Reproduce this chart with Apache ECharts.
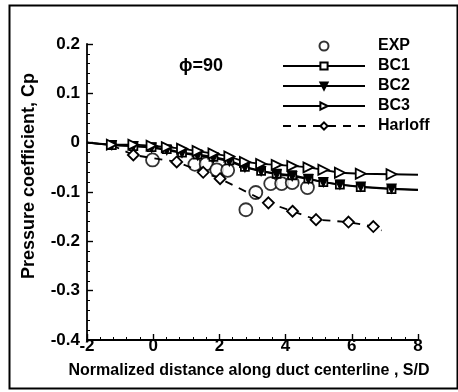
<!DOCTYPE html>
<html>
<head>
<meta charset="utf-8">
<script src="https://cdn.jsdelivr.net/npm/echarts@6/dist/echarts.min.js"></script>
<style>
  html, body { margin: 0; padding: 0; background: #fff; }
  #chart { width: 458px; height: 392px; }
</style>
</head>
<body>
<div id="chart"></div>
<script>
// Pressure coefficient along the duct centerline, phi = 90
const xTicks = [-2, 0, 2, 4, 6, 8];
const yTicks = [-0.4, -0.3, -0.2, -0.1, 0, 0.1, 0.2];

// experiment
const expS  = [-0.02, 1.26, 1.6, 1.92, 2.25, 2.8, 3.1, 3.55, 3.88, 4.2, 4.66];
const expCp = [-0.035, -0.044, -0.043, -0.055, -0.056, -0.136, -0.101, -0.083, -0.083, -0.081, -0.091];

// CFD stations (shared by BC1, BC2, BC3)
const cfdS   = [-2, -1.25, -0.6, -0.05, 0.41, 0.87, 1.34, 1.82, 2.3, 2.77, 3.26, 3.73, 4.2, 4.69, 5.14, 5.64, 6.27, 7.2, 8];
const bc1Cp  = [0, -0.005, -0.007, -0.009, -0.013, -0.02, -0.024, -0.029, -0.036, -0.049, -0.057, -0.063, -0.066, -0.073, -0.08, -0.085, -0.09, -0.094, -0.096];
const bc2Cp  = [0, -0.005, -0.007, -0.01, -0.015, -0.021, -0.026, -0.031, -0.038, -0.05, -0.058, -0.064, -0.068, -0.074, -0.08, -0.085, -0.089, -0.093, -0.095];
const bc3Cp  = [0, -0.004, -0.004, -0.006, -0.009, -0.012, -0.017, -0.022, -0.028, -0.039, -0.043, -0.045, -0.047, -0.05, -0.055, -0.061, -0.063, -0.064, -0.065];

// Harloff correlation
const harS  = [-1.25, -0.6, 0.71, 1.51, 2.02, 3.48, 4.21, 4.92, 5.9, 6.65, 6.9];
const harCp = [-0.005, -0.025, -0.039, -0.06, -0.073, -0.122, -0.139, -0.156, -0.161, -0.17, -0.178];

const FONT = '"Liberation Sans", Arial, sans-serif';

// points at the ends of a curve carry no marker
function pts(xs, ys, bareIdx) {
  return xs.map((x, i) => {
    const p = { value: [x, ys[i]] };
    if (bareIdx.includes(i)) p.symbol = 'none';
    return p;
  });
}

const lineCommon = {
  type: 'line',
  color: '#000',
  lineStyle: { color: '#000', width: 1.8 },
  itemStyle: { color: '#fff', borderColor: '#000', borderWidth: 1.8 },
  symbolSize: 9,
  z: 3
};

const chart = echarts.init(document.getElementById('chart'), null, { renderer: 'canvas' });
chart.setOption({
  animation: false,
  backgroundColor: '#fff',
  grid: { left: 87, right: 40, top: 44, bottom: 52 },
  xAxis: {
    type: 'value', min: xTicks[0], max: xTicks[xTicks.length - 1], interval: 2,
    axisLine: { onZero: false, lineStyle: { color: '#000', width: 1.8 } },
    axisTick: { inside: true, length: 6, lineStyle: { color: '#000', width: 1.4 } },
    minorTick: { show: true, splitNumber: 5, length: 3, lineStyle: { color: '#000', width: 1 } },
    splitLine: { show: false },
    axisLabel: { color: '#000', fontFamily: FONT, fontWeight: 'bold', fontSize: 17, margin: -1, lineHeight: 15 }
  },
  yAxis: {
    type: 'value', min: yTicks[0], max: yTicks[yTicks.length - 1], interval: 0.1,
    axisLine: { onZero: false, lineStyle: { color: '#000', width: 1.8 } },
    axisTick: { inside: true, length: 6, lineStyle: { color: '#000', width: 1.4 } },
    minorTick: { show: true, splitNumber: 5, length: 3, lineStyle: { color: '#000', width: 1 } },
    splitLine: { show: false },
    axisLabel: {
      color: '#000', fontFamily: FONT, fontWeight: 'bold', fontSize: 17, margin: 7,
      formatter: v => Math.abs(v) < 1e-9 ? '0' : v.toFixed(1)
    }
  },
  legend: {
    orient: 'vertical', left: 277, top: 32,
    itemWidth: 82, itemHeight: 9, itemGap: 2,
    textStyle: { color: '#000', fontFamily: FONT, fontWeight: 'bold', fontSize: 16, lineHeight: 18, padding: [0, 0, 0, 8] },
    data: ['EXP', 'BC1', 'BC2', 'BC3', 'Harloff']
  },
  graphic: [
    { type: 'rect', left: 7, top: 3, shape: { width: 448, height: 383 }, style: { fill: null, stroke: '#000', lineWidth: 2 }, silent: true },
    { type: 'text', left: 179, top: 57, style: { text: 'ϕ=90', fill: '#000', font: 'bold 18px ' + FONT } },
    { type: 'text', x: 29, y: 176, rotation: Math.PI / 2, style: { text: 'Pressure coefficient, Cp', fill: '#000', font: 'bold 18px ' + FONT, align: 'center', verticalAlign: 'middle' } },
    { type: 'text', x: 249, y: 371, style: { text: 'Normalized distance along duct centerline , S/D', fill: '#000', font: 'bold 16px ' + FONT, align: 'center', verticalAlign: 'middle' } }
  ],
  series: [
    {
      name: 'EXP', type: 'scatter', symbol: 'circle', symbolSize: 13,
      itemStyle: { color: '#fff', borderColor: '#000', borderWidth: 1.8 },
      data: expS.map((x, i) => [x, expCp[i]]), z: 2
    },
    Object.assign({}, lineCommon, {
      name: 'BC1', symbol: 'rect', symbolSize: 8,
      data: pts(cfdS, bc1Cp, [0, cfdS.length - 1])
    }),
    Object.assign({}, lineCommon, {
      name: 'BC2', symbol: 'triangle', symbolRotate: 180, symbolSize: 9,
      itemStyle: { color: '#000', borderColor: '#000', borderWidth: 1.2 },
      data: pts(cfdS, bc2Cp, [0, cfdS.length - 1])
    }),
    Object.assign({}, lineCommon, {
      name: 'BC3', symbol: 'triangle', symbolRotate: -90, symbolSize: 10,
      data: pts(cfdS, bc3Cp, [0, cfdS.length - 1])
    }),
    Object.assign({}, lineCommon, {
      name: 'Harloff', symbol: 'diamond', symbolSize: 11,
      lineStyle: { color: '#000', width: 1.8, type: [8, 7] },
      data: pts(harS, harCp, [0, harS.length - 1])
    })
  ]
});
</script>
</body>
</html>
